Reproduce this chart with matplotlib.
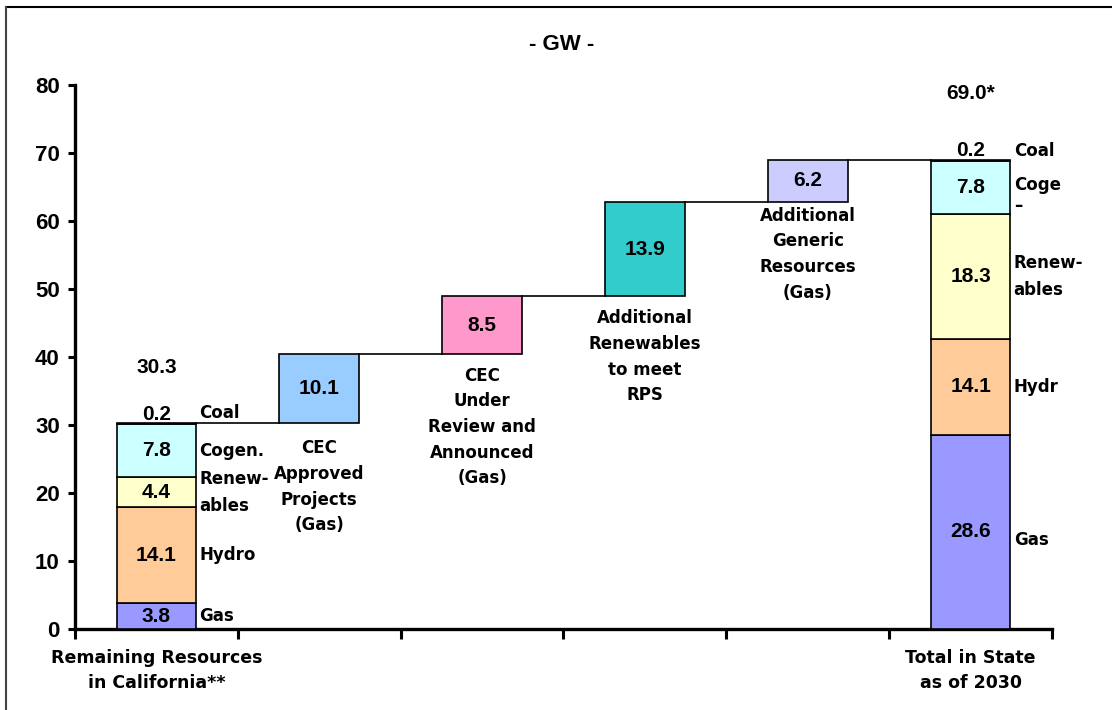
import matplotlib
matplotlib.use("Agg")
import matplotlib.pyplot as plt
from matplotlib.lines import Line2D

plt.rcParams['font.family'] = ['Liberation Sans', 'DejaVu Sans']
plt.rcParams['font.weight'] = 'bold'

# ---- data ----
stack_names = ["Gas", "Hydro", "Renewables", "Cogen.", "Coal"]
stack_colors = ["#9999FF", "#FFCC99", "#FFFFCC", "#CCFFFF", "#222222"]
remaining = [3.8, 14.1, 4.4, 7.8, 0.2]
total_2030 = [28.6, 14.1, 18.3, 7.8, 0.2]
remaining_total = "30.3"
final_total = "69.0*"

increments = [10.1, 8.5, 13.9, 6.2]
increment_colors = ["#99CCFF", "#FF99CC", "#33CCCC", "#CCCCFF"]
increment_labels = ["CEC\nApproved\nProjects\n(Gas)",
                    "CEC\nUnder\nReview and\nAnnounced\n(Gas)",
                    "Additional\nRenewables\nto meet\nRPS",
                    "Additional\nGeneric\nResources\n(Gas)"]
label_gaps = [2.4, 1.8, 1.9, 0.7]

left_seg_labels = ["Gas", "Hydro", "Renew-\nables", "Cogen.", "Coal"]
right_seg_labels = ["Gas", "Hydr", "Renew-\nables", "Coge\n\u2013", "Coal"]
cat_labels = ["Remaining Resources\nin California**", "", "", "", "", "Total in State\nas of 2030"]
yticks = [0, 10, 20, 30, 40, 50, 60, 70, 80]

fig = plt.figure(figsize=(11.12, 7.1), dpi=100)
ax = fig.add_axes([75/1112, 1-629/710, (1052-75)/1112, (629-85)/710])

W = 0.49
EDGE = 1.2
VAL_FS = 15
LAB_FS = 12
NUM_FONT = ['Liberation Sans', 'DejaVu Sans']
WORD_FONT = ['DejaVu Sans']

def draw_stack(x, vals):
    bottom = 0.0
    for i, v in enumerate(vals):
        ax.bar(x, v, W, bottom=bottom, color=stack_colors[i], edgecolor='black',
               linewidth=EDGE, zorder=3)
        c = bottom + v / 2
        if i < len(vals) - 1:
            ax.text(x, c, f"{v:.1f}", ha='center', va='center', fontsize=VAL_FS,
                    fontweight='bold', family=NUM_FONT, zorder=4)
        bottom += v
    return bottom

top0 = draw_stack(0, remaining)
top5 = draw_stack(5, total_2030)

def side_labels(x, vals, labels, coal_y, special=None, gas_shift=0.0):
    bottom = 0.0
    xl = x + W/2 + 0.02
    for i, v in enumerate(vals):
        c = bottom + v/2
        kw = dict(ha='left', fontsize=LAB_FS, fontweight='bold', family=WORD_FONT)
        if i == len(vals) - 1:
            ax.text(xl, coal_y, labels[i], va='center', **kw)
        elif special is not None and i == special:
            ax.text(xl, c + 1.7, labels[i], va='top', linespacing=1.2, **kw)
        elif i == 0:
            ax.text(xl, c + gas_shift, labels[i], va='center', **kw)
        else:
            ax.text(xl, c, labels[i], va='center', linespacing=1.65, **kw)
        bottom += v

side_labels(0, remaining, left_seg_labels, top0 + 1.4)
side_labels(5, total_2030, right_seg_labels, top5 + 1.3, special=3, gas_shift=-1.2)

numkw = dict(ha='center', va='center', fontsize=VAL_FS, fontweight='bold', family=NUM_FONT)
ax.text(0, top0 + 1.3, f"{remaining[-1]:.1f}", **numkw)
ax.text(5, top5 + 1.3, f"{total_2030[-1]:.1f}", **numkw)
ax.text(0, top0 + 8.2, remaining_total, **numkw)
ax.text(5, top5 + 9.8, final_total, **numkw)

level = top0
prev_right = 0 + W/2
for i, v in enumerate(increments):
    x = i + 1
    ax.plot([prev_right, x - W/2], [level, level], color='black', lw=1.2, zorder=2)
    ax.bar(x, v, W, bottom=level, color=increment_colors[i], edgecolor='black',
           linewidth=EDGE, zorder=3)
    ax.text(x, level + v/2, f"{v:.1f}", zorder=4, **numkw)
    ax.text(x, level - label_gaps[i], increment_labels[i], ha='center', va='top',
            fontsize=LAB_FS, fontweight='bold', linespacing=1.55, family=WORD_FONT)
    level += v
    prev_right = x + W/2
ax.plot([prev_right, 5 - W/2], [level, level], color='black', lw=1.2, zorder=2)

ax.set_xlim(-0.5, 5.5)
ax.set_ylim(0, 80)
ax.set_yticks(yticks)
ax.set_yticklabels([str(t) for t in yticks], fontsize=16, fontweight='bold', family=NUM_FONT)
ax.set_xticks([i - 0.5 for i in range(7)])
ax.set_xticklabels([])
ax.tick_params(axis='x', direction='out', length=7, width=2.2)
ax.tick_params(axis='y', direction='out', length=5, width=2.2, pad=6)
for i, lab in enumerate(cat_labels):
    if lab:
        ax.text(i, -2.9, lab, ha='center', va='top', fontsize=LAB_FS + 0.5,
                fontweight='bold', linespacing=1.5, family=WORD_FONT)

for s in ['top', 'right']:
    ax.spines[s].set_visible(False)
for s in ['left', 'bottom']:
    ax.spines[s].set_linewidth(2.4)

fig.text(562/1112, 1-45/710, "- GW -", ha='center', va='center', fontsize=16,
         fontweight='bold', family=NUM_FONT)

fig.add_artist(Line2D([6/1112, 1], [1-7/710, 1-7/710], transform=fig.transFigure, color='black', lw=1.5))
fig.add_artist(Line2D([6/1112, 6/1112], [0, 1-7/710], transform=fig.transFigure, color='#444444', lw=1.5))

fig.savefig("out.png", dpi=100)
